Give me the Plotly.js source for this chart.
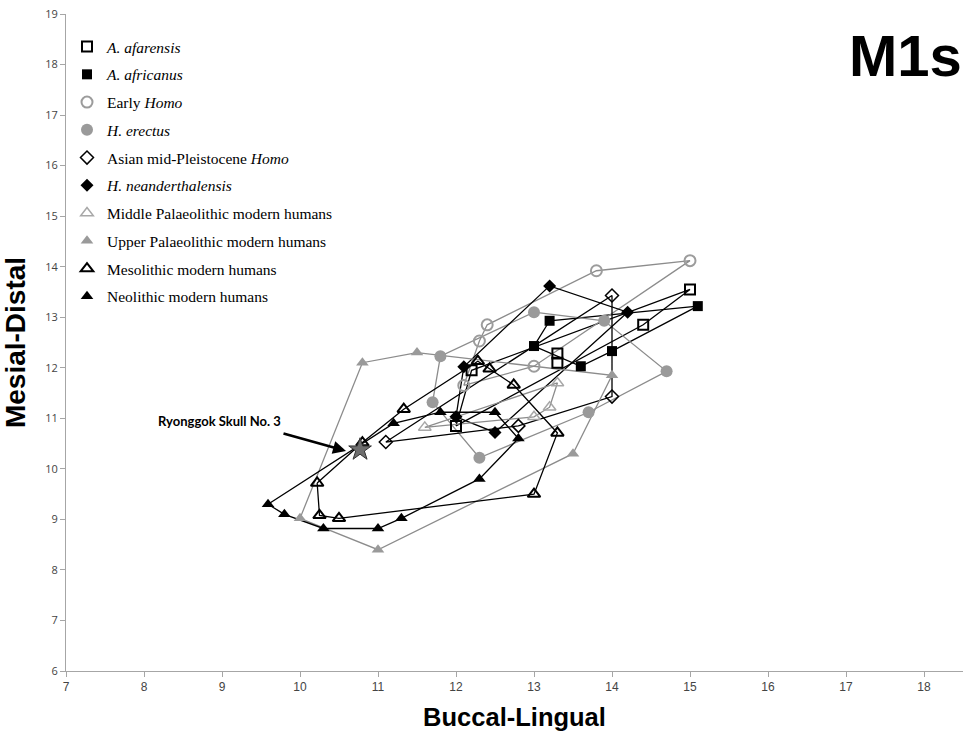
<!DOCTYPE html>
<html>
<head>
<meta charset="utf-8">
<script src="https://cdn.plot.ly/plotly-3.0.1.min.js"></script>
<style>html,body{margin:0;padding:0;background:#fff;}#chart{width:963px;height:735px;}</style>
</head>
<body>
<div id="chart"></div>
<script>
// ---- data (Buccal-Lingual = x, Mesial-Distal = y) ----
var afarensisX = [15.0, 14.4, 13.3, 13.3, 12.2, 12.0];
var afarensisY = [13.55, 12.85, 12.28, 12.1, 11.95, 10.85];
var africanusX = [15.1, 14.0, 13.6, 13.2, 13.0];
var africanusY = [13.22, 12.33, 12.03, 12.93, 12.43];
var earlyHomoX = [15.0, 13.8, 12.4, 12.3, 12.1, 13.0];
var earlyHomoY = [14.12, 13.92, 12.85, 12.53, 11.65, 12.03];
var erectusX = [11.8, 13.0, 13.9, 14.7, 13.7, 12.3, 11.7];
var erectusY = [12.23, 13.1, 12.93, 11.93, 11.12, 10.22, 11.32];
var asianX = [14.0, 14.0, 12.8, 11.1];
var asianY = [13.43, 11.43, 10.85, 10.53];
var neanderX = [13.2, 14.2, 12.5, 12.0, 12.1];
var neanderY = [13.62, 13.1, 10.72, 11.03, 12.02];
var midPalX = [11.6, 13.3, 13.2, 13.0];
var midPalY = [10.82, 11.7, 11.22, 11.03];
var upperPalX = [10.0, 10.8, 11.5, 14.0, 13.5, 11.0];
var upperPalY = [9.02, 12.1, 12.3, 11.85, 10.3, 8.4];
var mesoX = [10.22, 10.8, 11.33, 12.28, 12.43, 12.74, 13.3, 13.0, 10.5, 10.25];
var mesoY = [9.72, 10.52, 11.18, 12.13, 11.98, 11.66, 10.71, 9.5, 9.02, 9.08];
var neoX = [9.59, 9.8, 10.3, 11.0, 11.3, 12.3, 12.8, 12.5, 11.8, 11.2];
var neoY = [9.3, 9.1, 8.82, 8.82, 9.02, 9.8, 10.6, 11.12, 11.12, 10.9];
var ryonggokX = [10.77];
var ryonggokY = [10.38];

var groupNames = [
  '<i>A. afarensis</i>',
  '<i>A. africanus</i>',
  'Early <i>Homo</i>',
  '<i>H. erectus</i>',
  'Asian mid-Pleistocene <i>Homo</i>',
  '<i>H. neanderthalensis</i>',
  'Middle Palaeolithic modern humans',
  'Upper Palaeolithic modern humans',
  'Mesolithic modern humans',
  'Neolithic modern humans'
];

// convex hull (monotone chain), closed
function hull(xs, ys) {
  var p = xs.map(function (x, i) { return [x, ys[i]]; });
  p.sort(function (a, b) { return a[0] - b[0] || a[1] - b[1]; });
  function cross(o, a, b) { return (a[0]-o[0])*(b[1]-o[1]) - (a[1]-o[1])*(b[0]-o[0]); }
  var lower = [], upper = [];
  p.forEach(function (q) {
    while (lower.length >= 2 && cross(lower[lower.length-2], lower[lower.length-1], q) <= 0) lower.pop();
    lower.push(q);
  });
  for (var i = p.length - 1; i >= 0; i--) {
    var q = p[i];
    while (upper.length >= 2 && cross(upper[upper.length-2], upper[upper.length-1], q) <= 0) upper.pop();
    upper.push(q);
  }
  upper.pop(); lower.pop();
  var h = lower.concat(upper);
  h.push(h[0]);
  return {x: h.map(function (q) { return q[0]; }), y: h.map(function (q) { return q[1]; })};
}

var GRAY_LINE = '#8c8c8c';
var groups = [
  {x: afarensisX, y: afarensisY, line: '#000', sym: 'square-open', col: '#000', size: 10, lw: 2},
  {x: africanusX, y: africanusY, line: '#000', sym: 'square', col: '#000', size: 10, lw: 0},
  {x: earlyHomoX, y: earlyHomoY, line: GRAY_LINE, sym: 'circle-open', col: '#9c9c9c', size: 11, lw: 2},
  {x: erectusX, y: erectusY, line: GRAY_LINE, sym: 'circle', col: '#9a9a9a', size: 12, lw: 0},
  {x: asianX, y: asianY, line: '#000', sym: 'diamond-open', col: '#000', size: 10, lw: 1.5},
  {x: neanderX, y: neanderY, line: '#000', sym: 'diamond', col: '#000', size: 10, lw: 0},
  {x: midPalX, y: midPalY, line: GRAY_LINE, sym: 'triangle-up-open', col: '#a8a8a8', size: 11, lw: 1.5},
  {x: upperPalX, y: upperPalY, line: GRAY_LINE, sym: 'triangle-up', col: '#9a9a9a', size: 11, lw: 0},
  {x: mesoX, y: mesoY, line: '#000', sym: 'triangle-up-open', col: '#000', size: 11, lw: 2},
  {x: neoX, y: neoY, line: '#000', sym: 'triangle-up', col: '#000', size: 11, lw: 0}
];

var traces = [];
groups.forEach(function (g, i) {
  var h = hull(g.x, g.y);
  traces.push({
    type: 'scatter', mode: 'lines', x: h.x, y: h.y,
    line: {color: g.line, width: 1.3}, showlegend: false, hoverinfo: 'skip',
    legendgroup: 'g' + i
  });
});
groups.forEach(function (g, i) {
  var m = {symbol: g.sym, size: g.size, color: g.col};
  if (g.sym.indexOf('open') >= 0) m.line = {color: g.col, width: g.lw};
  traces.push({
    type: 'scatter', mode: 'markers', x: g.x, y: g.y, name: groupNames[i],
    marker: m, legendgroup: 'g' + i
  });
});
traces.push({
  type: 'scatter', mode: 'markers', x: ryonggokX, y: ryonggokY,
  name: 'Ryonggok Skull No. 3', showlegend: false,
  marker: {symbol: 'star', size: 17, color: '#6e6e6e', line: {color: '#333', width: 1}}
});

var W = 963, H = 735, L = 66, R = 0, T = 14, B = 64;
var pw = W - L - R, ph = H - T - B;
function px2paperX(p) { return (p - L) / pw; }
function px2paperY(p) { return 1 - (p - T) / ph; }

var layout = {
  width: W, height: H,
  margin: {l: L, r: R, t: T, b: B, pad: 0},
  paper_bgcolor: '#fff', plot_bgcolor: '#fff',
  showlegend: true,
  legend: {
    x: px2paperX(67), y: px2paperY(30), xanchor: 'left', yanchor: 'top',
    traceorder: 'grouped', tracegroupgap: 4.6,
    font: {family: 'Liberation Serif, Times New Roman, serif', size: 15.5, color: '#000'},
    bgcolor: 'rgba(0,0,0,0)', borderwidth: 0
  },
  xaxis: {
    range: [7, 7 + pw / 78], tickmode: 'linear', tick0: 7, dtick: 1,
    showgrid: false, zeroline: false, showline: true, linecolor: '#a6a6a6', linewidth: 1,
    ticks: 'outside', ticklen: 5, tickcolor: '#a6a6a6',
    tickfont: {family: 'Liberation Sans Narrow, Arial Narrow, sans-serif', size: 12, color: '#444'},
    title: {text: '<b>Buccal-Lingual</b>', standoff: 14,
      font: {family: 'Liberation Sans, Arial, sans-serif', size: 25.5, color: '#000'}}
  },
  yaxis: {
    range: [6, 19], tickmode: 'linear', tick0: 6, dtick: 1,
    showgrid: false, zeroline: false, showline: true, linecolor: '#a6a6a6', linewidth: 1,
    ticks: 'outside', ticklen: 5, tickcolor: '#a6a6a6',
    tickfont: {family: 'Open Sans, sans-serif', size: 11, color: '#444'},
    title: {text: '<b>Mesial-Distal</b>', standoff: 12,
      font: {family: 'Liberation Sans, Arial, sans-serif', size: 28, color: '#000'}}
  },
  annotations: [
    {xref: 'paper', yref: 'paper', x: px2paperX(905), y: px2paperY(55),
     xanchor: 'center', yanchor: 'middle', showarrow: false,
     text: '<b>M1s</b>', font: {family: 'Liberation Sans, Arial, sans-serif', size: 58, color: '#000'}},
    {xref: 'x', yref: 'y', x: 7 + (219 - L) / 78, y: 19 - (421 - T) / 50.54,
     xanchor: 'center', yanchor: 'middle', showarrow: false,
     text: '<b>Ryonggok Skull No. 3</b>', font: {family: 'Lato, sans-serif', size: 13, color: '#000'}},
    {xref: 'x', yref: 'y', x: 7 + (346 - L) / 78, y: 19 - (451 - T) / 50.54,
     ax: -64, ay: -18, text: '', showarrow: true,
     arrowhead: 2, arrowsize: 1, arrowwidth: 2.6, arrowcolor: '#000'}
  ]
};

Plotly.newPlot('chart', traces, layout, {displayModeBar: false, staticPlot: true});
</script>
</body>
</html>
